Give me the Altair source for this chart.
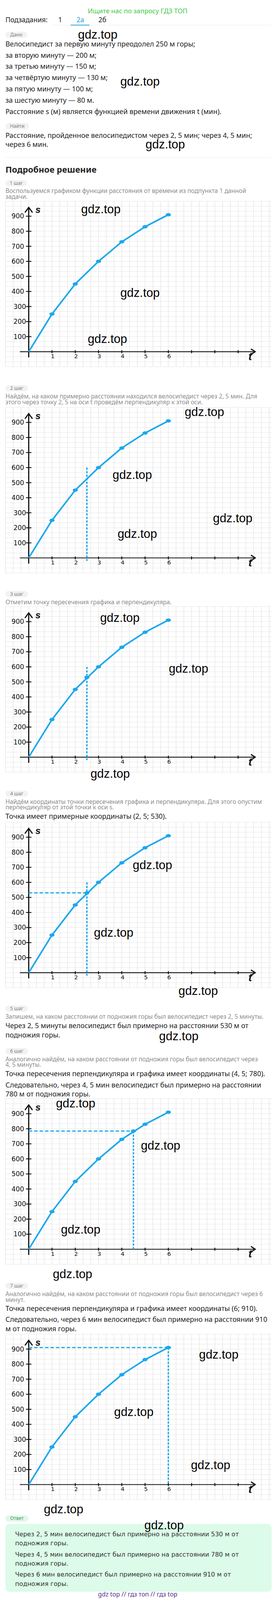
import altair as alt
import pandas as pd

# ---------------- data ----------------
T_MIN = [0, 1, 2, 3, 4, 5, 6]
S_M = [0, 250, 450, 600, 730, 830, 910]
T_TICKS = [1, 2, 3, 4, 5, 6, 7, 8, 9]
T_LABELS = ["1", "2", "3", "4", "5", "6"]
S_TICKS = [100, 200, 300, 400, 500, 600, 700, 800, 900]
P1 = (2.5, 530)
P2 = (4.5, 785)
P3 = (6, 910)
PERP_TOP = 600
PERP_BOTTOM = -20

HEADER = "Ищите нас по запросу ГДЗ ТОП"
TABS = ["1", "2а", "2б"]
GIVEN = [
    "Велосипедист за первую минуту преодолел 250 м горы;",
    "за вторую минуту — 200 м;",
    "за третью минуту — 150 м;",
    "за четвёртую минуту — 130 м;",
    "за пятую минуту — 100 м;",
    "за шестую минуту — 80 м.",
    "Расстояние s (м) является функцией времени движения t (мин).",
]
FIND = ["Расстояние, пройденное велосипедистом через 2, 5 мин; через 4, 5 мин;",
        "через 6 мин."]
STEP1 = ["Воспользуемся графиком функции расстояния от времени из подпункта 1 данной",
         "задачи."]
STEP2 = ["Найдём, на каком примерно расстоянии находился велосипедист через 2, 5 мин. Для",
         "этого через точку 2, 5 на оси t проведём перпендикуляр к этой оси."]
STEP3 = ["Отметим точку пересечения графика и перпендикуляра."]
STEP4_G = ["Найдём координаты точки пересечения графика и перпендикуляра. Для этого опустим",
           "перпендикуляр от этой точки к оси s."]
STEP4_B = ["Точка имеет примерные координаты (2, 5; 530)."]
STEP5_G = ["Запишем, на каком расстоянии от подножия горы был велосипедист через 2, 5 минуты."]
STEP5_B = ["Через 2, 5 минуты велосипедист был примерно на расстоянии 530 м от",
           "подножия горы."]
STEP6_G = ["Аналогично найдём, на каком расстоянии от подножия горы был велосипедист через",
           "4, 5 минуты."]
STEP6_B = ["Точка пересечения перпендикуляра и графика имеет координаты (4, 5; 780).",
           "Следовательно, через 4, 5 мин велосипедист был примерно на расстоянии",
           "780 м от подножия горы."]
STEP7_G = ["Аналогично найдём, на каком расстоянии от подножия горы был велосипедист через 6",
           "минут."]
STEP7_B = ["Точка пересечения перпендикуляра и графика имеет координаты (6; 910).",
           "Следовательно, через 6 мин велосипедист был примерно на расстоянии 910",
           "м от подножия горы."]
ANSWER = ["Через 2, 5 мин велосипедист был примерно на расстоянии 530 м от",
          "подножия горы.",
          "Через 4, 5 мин велосипедист был примерно на расстоянии 780 м от",
          "подножия горы.",
          "Через 6 мин велосипедист был примерно на расстоянии 910 м от",
          "подножия горы."]
FOOTER = "gdz top // гдз топ // гдз top"
WM = "gdz.top"

# ---------------- style / layout ----------------
K = 4096 / 6340          # vertical layout factor (the photographed page is 4096 px tall)
TOP0 = 8 / K
FONT = "Noto Sans"
WMFONT = "Liberation Sans"
AXFONT = "DejaVu Sans"
ANSFONT = "DejaVu Sans"
BLACK = "#222222"
GRAY = "#8c8c8c"
BLUE = "#1ba8ec"
GRIDC = "#e6e6e6"
AXC = "#111111"
W = 692
ONE = pd.DataFrame({"k": [0]})


def ly(y, top):
    return (y - top) * K


def T(s, x, y, top, size=18, color=BLACK, font=FONT, weight="normal",
      align="left", style="normal", baseline="middle"):
    return alt.Chart(ONE).mark_text(
        text=s, align=align, baseline=baseline, fontSize=size, color=color,
        font=font, fontWeight=weight, fontStyle=style
    ).encode(x=alt.value(x - 8), y=alt.value(ly(y, top)))


def WMK(x, y, top):
    return T(WM, x, y, top, size=31, color="#000000", font=WMFONT, align="center")


def R(x1, x2, y1, y2, top, fill, radius=0):
    return alt.Chart(ONE).mark_rect(color=fill, cornerRadius=radius).encode(
        x=alt.value(x1 - 8), x2=alt.value(x2 - 8),
        y=alt.value(ly(y1, top)), y2=alt.value(ly(y2, top)))


def HL(x1, x2, y, top, color, w):
    return alt.Chart(ONE).mark_rule(color=color, strokeWidth=w).encode(
        x=alt.value(x1 - 8), x2=alt.value(x2 - 8), y=alt.value(ly(y, top)))


def PILL(label, x2, yc, top, fill="#f2f2f2", color="#7b7b7b"):
    return [R(14, x2, yc - 12.5, yc + 12.5, top, fill, 8),
            T(label, (14 + x2) / 2, yc, top, size=12.5, color=color, align="center")]


def tl(lines, ys, top, **kw):
    return [T(s, 14, y, top, **kw) for s, y in zip(lines, ys)]


def section(top, bottom, layers):
    return alt.layer(*layers).properties(width=W, height=(bottom - top) * K)


# ---------------- graph ----------------
X_LO = (8 - 74) / 60
X_HI = (700 - 74) / 60
XS = alt.Scale(domain=[X_LO, X_HI], nice=False, zero=False)
YS = alt.Scale(domain=[-100, 1000], nice=False, zero=False)
GRID_T = [-1 + k / 3 for k in range(35)]
GRID_S = [-100 + k * 100 / 3 for k in range(34)]
PX_T = 1 / 60
PX_S = 1 / 0.6
XAXIS = [(-22 * PX_T, 0, 584 * PX_T, 0)]
AXIS_SEGS = [
    (0, -21 * PX_S, 0, 575 * PX_S),
    (574 * PX_T, 10 * PX_S, 584 * PX_T, 0),
    (574 * PX_T, -10 * PX_S, 584 * PX_T, 0),
    (-9 * PX_T, 556 * PX_S, 0, 575 * PX_S),
    (9 * PX_T, 556 * PX_S, 0, 575 * PX_S),
]
DOT = "M-1,0A1,%.3f,0,1,0,1,0A1,%.3f,0,1,0,-1,0Z" % (K, K)


def xq(f):
    return alt.X(f, type="quantitative", scale=XS, axis=None)


def yq(f):
    return alt.Y(f, type="quantitative", scale=YS, axis=None)


def segs(rows, **mk):
    d = pd.DataFrame(rows, columns=["t", "s", "t2", "s2"])
    return alt.Chart(d).mark_rule(**mk).encode(x=xq("t"), y=yq("s"), x2="t2", y2="s2")


def dots(df):
    return alt.Chart(df).mark_point(shape=DOT, filled=True, size=175, opacity=1,
                                    color=BLUE, strokeWidth=0).encode(x=xq("t"), y=yq("s"))


def ylabels(vals, dx):
    d = pd.DataFrame({"t": 0.0, "s": vals, "lab": [str(v) for v in vals]})
    return alt.Chart(d).mark_text(font=AXFONT, fontSize=17, color=AXC, dx=dx, dy=1,
                                  align="right", baseline="middle").encode(
        x=xq("t"), y=yq("s"), text="lab:N")


def graph(top, vdash, hdash, marks, wms):
    L = []
    gv = pd.DataFrame({"t": GRID_T, "s0": -100.0, "s1": 1000.0})
    L.append(alt.Chart(gv).mark_rule(color=GRIDC, strokeWidth=1.4).encode(
        x=xq("t"), y=yq("s0"), y2="s1"))
    gh = pd.DataFrame({"s": GRID_S, "t0": -1.0, "t1": X_HI})
    L.append(alt.Chart(gh).mark_rule(color=GRIDC, strokeWidth=1.0).encode(
        y=yq("s"), x=xq("t0"), x2="t1"))
    L.append(segs(XAXIS, color=AXC, strokeWidth=2.2, strokeCap="round"))
    L.append(segs(AXIS_SEGS, color=AXC, strokeWidth=3, strokeCap="round"))
    xt = pd.DataFrame({"t": T_TICKS, "s0": -10.0, "s1": 10.0})
    L.append(alt.Chart(xt).mark_rule(color=AXC, strokeWidth=2.5).encode(
        x=xq("t"), y=yq("s0"), y2="s1"))
    yt = pd.DataFrame({"s": S_TICKS, "t0": -7 * PX_T, "t1": 7 * PX_T})
    L.append(alt.Chart(yt).mark_rule(color=AXC, strokeWidth=2.2).encode(
        y=yq("s"), x=xq("t0"), x2="t1"))
    xl = pd.DataFrame({"t": T_TICKS[:len(T_LABELS)], "s": 0.0, "lab": T_LABELS})
    L.append(alt.Chart(xl).mark_text(font=AXFONT, fontSize=15, color=AXC, dy=12, dx=2,
                                     align="center", baseline="middle").encode(
        x=xq("t"), y=yq("s"), text="lab:N"))
    L.append(ylabels([v for v in S_TICKS if v >= 400], -12))
    L.append(ylabels([v for v in S_TICKS if v < 400], -7))
    L.append(T("s", 98, 817, 781, size=24, color=AXC, font=WMFONT, weight="bold",
               style="italic", align="center"))
    L.append(T("t", 645, 1402, 781, size=28, color=AXC, font=WMFONT, weight="bold",
               style="italic", align="center"))
    if vdash:
        L.append(segs(vdash, color=BLUE, strokeWidth=3.5, strokeDash=[9 * K, 5 * K]))
    if hdash:
        L.append(segs(hdash, color=BLUE, strokeWidth=3.0, strokeDash=[9, 5]))
    cv = pd.DataFrame({"t": T_MIN, "s": S_M})
    L.append(alt.Chart(cv).mark_line(color=BLUE, strokeWidth=4).encode(
        x=xq("t"), y=yq("s"), order="t:Q"))
    L.append(dots(cv.iloc[1:]))
    if marks:
        L.append(dots(pd.DataFrame(marks, columns=["t", "s"])))
    for (x, y) in wms:
        L.append(WMK(x, y, top))
    return alt.layer(*L).properties(width=W, height=660 * K)


G_KW = dict(size=15.5, color=GRAY)

# ---------------- sections ----------------
top = TOP0
s0 = [T(HEADER, 355, TOP0, top, size=17, color="#3fc83f", align="center", baseline="top"),
      T("Подзадания:", 14, 61, top, size=17.5),
      T(TABS[0], 155, 61, top, size=17.5, align="center"),
      T(TABS[1], 207, 61, top, size=17.5, align="center", color="#2d9fd9"),
      T(TABS[2], 264, 61, top, size=17.5, align="center"),
      HL(136, 700, 80, top, "#ebebeb", 1.2),
      R(182, 231, 78.5, 81.5, top, "#2d9fd9")]
s0 += PILL("Дано", 70, 119, top)
s0 += [WMK(252, 120, top)]
s0 += tl(GIVEN, [157, 202, 247, 292, 337, 382, 427], top)
s0 += [WMK(361, 307, top)]
s0 += PILL("Найти", 75, 483, top)
s0 += tl(FIND, [522, 557], top)
s0 += [WMK(426, 557, top), HL(14, 700, 607, top, "#eeeeee", 1.2),
       T("Подробное решение", 14, 657, top, size=22, weight="bold")]
s0 += PILL("1 шаг", 70, 710, top)
s0 += tl(STEP1, [742, 765], top, **G_KW)
sec0 = section(TOP0, 781, s0)

g1 = graph(781, [], [], [], [(260, 815), (361, 1148), (277, 1332)])

s1 = PILL("2 шаг", 72, 1526, 1441) + tl(STEP2, [1559, 1582], 1441, **G_KW)
sec1 = section(1441, 1601, s1)

g2 = graph(1601, [(P1[0], PERP_TOP, P1[0], PERP_BOTTOM)], [], [],
           [(527, 1622), (341, 1872), (600, 2045), (354, 2108)])

s2 = PILL("3 шаг", 72, 2344, 2261) + tl(STEP3, [2377], 2261, **G_KW)
sec2 = section(2261, 2393, s2)

g3 = graph(2393, [(P1[0], PERP_TOP, P1[0], PERP_BOTTOM)], [], [P1],
           [(309, 2440), (486, 2643)])

s3 = [WMK(284, 3060, 3053)] + PILL("4 шаг", 72, 3138, 3053)
s3 += tl(STEP4_G, [3171, 3193], 3053, **G_KW) + tl(STEP4_B, [3230], 3053)
sec3 = section(3053, 3250, s3)

g4 = graph(3250, [(P1[0], PERP_TOP, P1[0], PERP_BOTTOM)], [(0, P1[1], P1[0], P1[1])], [P1],
           [(393, 3423), (293, 3692)])

s4 = [WMK(511, 3923, 3910)] + PILL("5 шаг", 72, 3992, 3910)
s4 += tl(STEP5_G, [4025], 3910, **G_KW) + tl(STEP5_B, [4063, 4099], 3910)
s4 += [WMK(461, 4104, 3910)] + PILL("6 шаг", 72, 4162, 3910)
s4 += tl(STEP6_G, [4194, 4217], 3910, **G_KW) + tl(STEP6_B, [4254, 4299, 4335], 3910)
sec4 = section(3910, 4351, s4)

g5 = graph(4351, [(P2[0], P2[1], P2[0], 0)], [(0, P2[1], P2[0], P2[1])], [P2],
           [(195, 4372), (414, 4540), (208, 4875)])

s5 = [WMK(187, 5052, 5011)] + PILL("7 шаг", 72, 5096, 5011)
s5 += tl(STEP7_G, [5129, 5152], 5011, **G_KW) + tl(STEP7_B, [5188, 5232, 5270], 5011)
sec5 = section(5011, 5287, s5)

g6 = graph(5287, [(P3[0], P3[1], P3[0], 0)], [(0, P3[1], P3[0], P3[1])], [P3],
           [(564, 5371), (345, 5600), (543, 5811)])

s6 = [WMK(164, 5987, 5947)] + PILL("Ответ", 73, 6021, 5947, fill="#e2f7ea", color="#3c9b5c")
s6 += [R(14, 700, 6043, 6313, 5947, "#dcfbe8", 10), WMK(423, 6051, 5947)]
s6 += [T(s, 39, y, 5947, size=16, color="#333333", font=ANSFONT)
       for s, y in zip(ANSWER, [6084, 6121, 6165, 6201, 6245, 6282])]
s6 += [T(FOOTER, 355, 6324, 5947, size=16, color="#5c2d91", font=FONT, align="center")]
sec6 = section(5947, 6336, s6)

chart = alt.vconcat(sec0, g1, sec1, g2, sec2, g3, sec3, g4, sec4, g5, sec5, g6, sec6,
                    spacing=0, bounds="flush", padding=0, background="white"
                    ).configure_view(stroke=None)

chart.save("out.html", embed_options={"renderer": "svg", "actions": False})
